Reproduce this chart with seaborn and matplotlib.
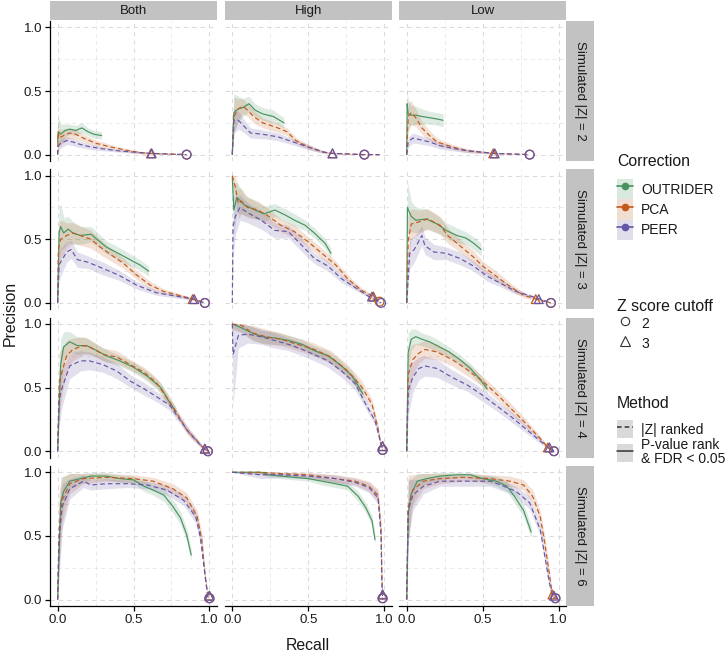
import numpy as np
import pandas as pd
import matplotlib
matplotlib.use("Agg")
import matplotlib.pyplot as plt
from matplotlib.patches import Patch
from matplotlib.lines import Line2D
from matplotlib.colors import to_rgba
import seaborn as sns

# each curve point: (recall, precision, ribbon half-width)
BOTH_Z2_OUTRIDER = [(0.0, 0.10, 0.10), (0.005, 0.18, 0.12), (0.02, 0.16, 0.08), (0.05, 0.19, 0.05), (0.08, 0.20, 0.04),
                    (0.12, 0.19, 0.04), (0.16, 0.21, 0.04), (0.20, 0.18, 0.03), (0.24, 0.16, 0.03), (0.29, 0.15, 0.03)]
BOTH_Z2_PCA = [(0.0, 0.0, 0.05), (0.003, 0.18, 0.12), (0.01, 0.13, 0.07), (0.04, 0.15, 0.05), (0.08, 0.17, 0.04),
               (0.12, 0.16, 0.04), (0.17, 0.13, 0.03), (0.25, 0.09, 0.025), (0.35, 0.06, 0.02), (0.45, 0.035, 0.015),
               (0.55, 0.015, 0.01), (0.615, 0.01, 0.005), (0.85, 0.0, 0.0)]
BOTH_Z2_PEER = [(0.0, 0.0, 0.03), (0.005, 0.07, 0.04), (0.02, 0.09, 0.04), (0.06, 0.11, 0.03), (0.10, 0.10, 0.03),
                (0.15, 0.08, 0.025), (0.22, 0.06, 0.02), (0.30, 0.045, 0.015), (0.40, 0.03, 0.01), (0.50, 0.02, 0.01),
                (0.615, 0.01, 0.005), (0.85, 0.0, 0.0)]

HIGH_Z2_OUTRIDER = [(0.0, 0.0, 0.05), (0.01, 0.33, 0.15), (0.04, 0.36, 0.10), (0.07, 0.37, 0.07), (0.11, 0.40, 0.06),
                    (0.15, 0.35, 0.05), (0.20, 0.32, 0.05), (0.27, 0.30, 0.05), (0.34, 0.25, 0.04)]
HIGH_Z2_PCA = [(0.0, 0.0, 0.05), (0.01, 0.30, 0.15), (0.04, 0.36, 0.08), (0.07, 0.38, 0.06), (0.10, 0.35, 0.05),
               (0.14, 0.30, 0.05), (0.20, 0.25, 0.04), (0.30, 0.21, 0.035), (0.36, 0.18, 0.03), (0.42, 0.11, 0.025),
               (0.50, 0.06, 0.02), (0.60, 0.02, 0.01), (0.66, 0.01, 0.005), (0.87, 0.0, 0.0), (0.97, 0.0, 0.0)]
HIGH_Z2_PEER = [(0.0, 0.0, 0.04), (0.01, 0.27, 0.10), (0.04, 0.27, 0.07), (0.08, 0.22, 0.05), (0.12, 0.17, 0.04),
                (0.20, 0.16, 0.035), (0.30, 0.14, 0.03), (0.40, 0.10, 0.025), (0.50, 0.06, 0.02), (0.60, 0.02, 0.01),
                (0.66, 0.01, 0.005), (0.87, 0.0, 0.0), (0.97, 0.0, 0.0)]

LOW_Z2_OUTRIDER = [(0.0, 0.0, 0.05), (0.003, 0.40, 0.12), (0.01, 0.32, 0.10), (0.03, 0.31, 0.08), (0.06, 0.31, 0.07),
                   (0.10, 0.30, 0.06), (0.15, 0.29, 0.05), (0.20, 0.28, 0.05), (0.24, 0.27, 0.05)]
LOW_Z2_PCA = [(0.0, 0.0, 0.05), (0.01, 0.30, 0.12), (0.03, 0.33, 0.09), (0.06, 0.29, 0.07), (0.10, 0.21, 0.05),
              (0.15, 0.15, 0.04), (0.20, 0.10, 0.03), (0.30, 0.06, 0.02), (0.40, 0.03, 0.015), (0.576, 0.01, 0.005),
              (0.81, 0.0, 0.0)]
LOW_Z2_PEER = [(0.0, 0.0, 0.03), (0.01, 0.10, 0.04), (0.04, 0.13, 0.04), (0.08, 0.12, 0.035), (0.15, 0.10, 0.03),
               (0.22, 0.07, 0.025), (0.30, 0.05, 0.02), (0.40, 0.03, 0.015), (0.576, 0.01, 0.005), (0.81, 0.0, 0.0)]

BOTH_Z3_OUTRIDER = [(0.0, 0.0, 0.10), (0.01, 0.55, 0.20), (0.02, 0.60, 0.18), (0.04, 0.55, 0.12), (0.07, 0.58, 0.10),
                    (0.10, 0.55, 0.09), (0.15, 0.53, 0.07), (0.22, 0.54, 0.06), (0.32, 0.44, 0.05), (0.43, 0.37, 0.05),
                    (0.54, 0.30, 0.04), (0.60, 0.25, 0.04)]
BOTH_Z3_PCA = [(0.0, 0.0, 0.10), (0.005, 0.42, 0.20), (0.02, 0.50, 0.15), (0.06, 0.53, 0.10), (0.10, 0.55, 0.08),
               (0.22, 0.50, 0.07), (0.28, 0.44, 0.06), (0.35, 0.38, 0.05), (0.435, 0.31, 0.04), (0.52, 0.22, 0.035),
               (0.61, 0.14, 0.03), (0.70, 0.09, 0.02), (0.895, 0.03, 0.01), (0.97, 0.0, 0.0)]
BOTH_Z3_PEER = [(0.0, 0.0, 0.08), (0.01, 0.30, 0.12), (0.06, 0.40, 0.08), (0.09, 0.42, 0.07), (0.13, 0.34, 0.06),
                (0.20, 0.32, 0.05), (0.30, 0.27, 0.05), (0.40, 0.22, 0.04), (0.52, 0.14, 0.03), (0.65, 0.08, 0.02),
                (0.895, 0.03, 0.01), (0.97, 0.0, 0.0)]

HIGH_Z3_OUTRIDER = [(0.0, 0.99, 0.05), (0.01, 0.73, 0.20), (0.03, 0.83, 0.12), (0.08, 0.77, 0.08), (0.15, 0.73, 0.07),
                    (0.21, 0.70, 0.06), (0.28, 0.73, 0.05), (0.35, 0.69, 0.05), (0.41, 0.65, 0.05), (0.48, 0.61, 0.04),
                    (0.54, 0.55, 0.04), (0.61, 0.47, 0.04), (0.65, 0.39, 0.04)]
HIGH_Z3_PCA = [(0.0, 1.0, 0.05), (0.02, 0.91, 0.10), (0.04, 0.78, 0.12), (0.06, 0.80, 0.10), (0.10, 0.75, 0.08),
               (0.17, 0.73, 0.07), (0.24, 0.68, 0.06), (0.32, 0.61, 0.05), (0.41, 0.56, 0.05), (0.50, 0.48, 0.04),
               (0.59, 0.39, 0.04), (0.68, 0.30, 0.03), (0.76, 0.19, 0.03), (0.85, 0.10, 0.02), (0.93, 0.05, 0.01),
               (0.98, 0.0, 0.0)]
HIGH_Z3_PEER = [(0.0, 0.0, 0.10), (0.005, 0.60, 0.25), (0.02, 0.68, 0.15), (0.05, 0.75, 0.10), (0.10, 0.71, 0.08),
                (0.19, 0.65, 0.07), (0.28, 0.57, 0.06), (0.37, 0.56, 0.05), (0.46, 0.45, 0.05), (0.54, 0.35, 0.04),
                (0.63, 0.29, 0.04), (0.72, 0.19, 0.03), (0.81, 0.12, 0.02), (0.90, 0.05, 0.01), (0.98, 0.0, 0.0)]

LOW_Z3_OUTRIDER = [(0.0, 0.0, 0.10), (0.005, 0.75, 0.20), (0.03, 0.68, 0.12), (0.06, 0.65, 0.10), (0.13, 0.66, 0.08),
                   (0.20, 0.62, 0.07), (0.26, 0.57, 0.06), (0.33, 0.53, 0.06), (0.39, 0.51, 0.05), (0.44, 0.47, 0.05),
                   (0.49, 0.42, 0.05)]
LOW_Z3_PCA = [(0.0, 0.0, 0.10), (0.01, 0.49, 0.20), (0.03, 0.62, 0.12), (0.09, 0.64, 0.09), (0.14, 0.66, 0.08),
              (0.22, 0.61, 0.07), (0.27, 0.53, 0.06), (0.35, 0.45, 0.05), (0.44, 0.36, 0.05), (0.50, 0.29, 0.04),
              (0.59, 0.21, 0.04), (0.68, 0.13, 0.03), (0.77, 0.06, 0.02), (0.855, 0.03, 0.01), (0.95, 0.0, 0.0)]
LOW_Z3_PEER = [(0.0, 0.0, 0.08), (0.02, 0.39, 0.12), (0.05, 0.42, 0.10), (0.10, 0.53, 0.08), (0.12, 0.45, 0.07),
               (0.18, 0.40, 0.06), (0.26, 0.39, 0.05), (0.35, 0.35, 0.05), (0.44, 0.29, 0.04), (0.53, 0.21, 0.04),
               (0.61, 0.16, 0.03), (0.72, 0.09, 0.02), (0.855, 0.04, 0.01), (0.95, 0.0, 0.0)]

BOTH_Z4_OUTRIDER = [(0.0, 0.0, 0.10), (0.02, 0.68, 0.20), (0.04, 0.82, 0.12), (0.08, 0.86, 0.08), (0.13, 0.83, 0.07),
                    (0.19, 0.83, 0.06), (0.26, 0.79, 0.05), (0.32, 0.75, 0.05), (0.41, 0.71, 0.04), (0.50, 0.66, 0.04),
                    (0.59, 0.59, 0.04), (0.68, 0.50, 0.04), (0.74, 0.38, 0.04), (0.78, 0.31, 0.04)]
BOTH_Z4_PCA = [(0.0, 0.0, 0.10), (0.01, 0.53, 0.25), (0.03, 0.63, 0.18), (0.06, 0.75, 0.12), (0.10, 0.80, 0.09),
               (0.17, 0.83, 0.07), (0.21, 0.82, 0.06), (0.30, 0.76, 0.05), (0.39, 0.74, 0.05), (0.48, 0.68, 0.04),
               (0.57, 0.62, 0.04), (0.65, 0.54, 0.04), (0.72, 0.42, 0.04), (0.79, 0.29, 0.03), (0.85, 0.17, 0.03),
               (0.92, 0.08, 0.02), (0.96, 0.026, 0.01), (0.99, 0.0, 0.0)]
BOTH_Z4_PEER = [(0.0, 0.0, 0.10), (0.01, 0.40, 0.20), (0.03, 0.50, 0.15), (0.08, 0.67, 0.10), (0.15, 0.71, 0.08),
                (0.21, 0.71, 0.07), (0.30, 0.68, 0.06), (0.39, 0.63, 0.06), (0.48, 0.55, 0.05), (0.57, 0.49, 0.05),
                (0.65, 0.43, 0.04), (0.74, 0.36, 0.04), (0.81, 0.24, 0.03), (0.87, 0.14, 0.03), (0.94, 0.05, 0.02),
                (0.96, 0.026, 0.01), (0.99, 0.0, 0.0)]

HIGH_Z4_OUTRIDER = [(0.0, 1.0, 0.03), (0.06, 0.97, 0.04), (0.13, 0.93, 0.05), (0.19, 0.90, 0.05), (0.28, 0.89, 0.05),
                    (0.37, 0.87, 0.04), (0.46, 0.84, 0.04), (0.54, 0.79, 0.04), (0.63, 0.75, 0.04), (0.72, 0.67, 0.04),
                    (0.79, 0.59, 0.04), (0.86, 0.45, 0.04)]
HIGH_Z4_PCA = [(0.0, 1.0, 0.05), (0.06, 0.99, 0.05), (0.13, 0.93, 0.06), (0.22, 0.90, 0.06), (0.32, 0.88, 0.05),
               (0.43, 0.84, 0.05), (0.54, 0.80, 0.05), (0.65, 0.74, 0.05), (0.76, 0.63, 0.05), (0.85, 0.51, 0.05),
               (0.92, 0.37, 0.04), (0.96, 0.18, 0.03), (0.98, 0.04, 0.02), (0.99, 0.01, 0.0)]
HIGH_Z4_PEER = [(0.0, 1.0, 0.10), (0.005, 0.76, 0.40), (0.04, 0.91, 0.10), (0.10, 0.92, 0.07), (0.19, 0.90, 0.06),
                (0.28, 0.87, 0.06), (0.37, 0.84, 0.05), (0.46, 0.80, 0.05), (0.54, 0.76, 0.05), (0.63, 0.71, 0.05),
                (0.72, 0.63, 0.05), (0.81, 0.53, 0.05), (0.87, 0.39, 0.04), (0.94, 0.24, 0.03), (0.97, 0.10, 0.02),
                (0.99, 0.02, 0.0)]

LOW_Z4_OUTRIDER = [(0.0, 0.0, 0.10), (0.01, 0.78, 0.15), (0.03, 0.88, 0.08), (0.06, 0.90, 0.06), (0.10, 0.88, 0.05),
                   (0.15, 0.86, 0.05), (0.20, 0.83, 0.05), (0.28, 0.78, 0.04), (0.35, 0.72, 0.04), (0.42, 0.65, 0.04),
                   (0.48, 0.57, 0.04), (0.53, 0.49, 0.04)]
LOW_Z4_PCA = [(0.0, 0.0, 0.10), (0.01, 0.60, 0.20), (0.04, 0.72, 0.12), (0.08, 0.77, 0.08), (0.12, 0.80, 0.07),
              (0.20, 0.78, 0.06), (0.30, 0.72, 0.05), (0.40, 0.64, 0.05), (0.50, 0.55, 0.04), (0.60, 0.44, 0.04),
              (0.70, 0.32, 0.04), (0.80, 0.20, 0.03), (0.88, 0.10, 0.02), (0.93, 0.03, 0.01), (0.97, 0.0, 0.0)]
LOW_Z4_PEER = [(0.0, 0.0, 0.10), (0.01, 0.48, 0.20), (0.04, 0.58, 0.12), (0.08, 0.65, 0.09), (0.12, 0.67, 0.08),
               (0.20, 0.65, 0.07), (0.30, 0.58, 0.06), (0.40, 0.52, 0.05), (0.50, 0.44, 0.05), (0.60, 0.35, 0.04),
               (0.70, 0.26, 0.04), (0.80, 0.16, 0.03), (0.88, 0.08, 0.02), (0.93, 0.03, 0.01), (0.97, 0.0, 0.0)]

BOTH_Z6_OUTRIDER = [(0.0, 0.0, 0.10), (0.02, 0.76, 0.20), (0.04, 0.85, 0.12), (0.08, 0.93, 0.06), (0.15, 0.95, 0.04),
                    (0.22, 0.97, 0.03), (0.32, 0.97, 0.03), (0.41, 0.95, 0.03), (0.50, 0.94, 0.03), (0.57, 0.89, 0.04),
                    (0.63, 0.86, 0.04), (0.70, 0.82, 0.05), (0.76, 0.73, 0.05), (0.81, 0.64, 0.05), (0.85, 0.51, 0.05),
                    (0.88, 0.35, 0.05)]
BOTH_Z6_PCA = [(0.0, 0.0, 0.10), (0.01, 0.55, 0.30), (0.03, 0.78, 0.18), (0.08, 0.91, 0.08), (0.17, 0.95, 0.04),
               (0.32, 0.96, 0.03), (0.50, 0.95, 0.03), (0.63, 0.93, 0.03), (0.76, 0.87, 0.04), (0.85, 0.80, 0.04),
               (0.92, 0.65, 0.05), (0.95, 0.47, 0.05), (0.97, 0.20, 0.04), (0.99, 0.02, 0.01), (1.0, 0.0, 0.0)]
BOTH_Z6_PEER = [(0.0, 0.0, 0.10), (0.01, 0.47, 0.30), (0.03, 0.73, 0.18), (0.08, 0.87, 0.08), (0.17, 0.93, 0.05),
                (0.22, 0.90, 0.04), (0.32, 0.91, 0.04), (0.46, 0.91, 0.03), (0.59, 0.90, 0.03), (0.72, 0.86, 0.04),
                (0.83, 0.78, 0.04), (0.91, 0.65, 0.05), (0.94, 0.49, 0.05), (0.97, 0.20, 0.04), (0.99, 0.02, 0.01),
                (1.0, 0.0, 0.0)]

HIGH_Z6_OUTRIDER = [(0.0, 1.0, 0.0), (0.19, 1.0, 0.01), (0.24, 0.98, 0.02), (0.32, 0.97, 0.02), (0.41, 0.96, 0.02),
                    (0.50, 0.95, 0.02), (0.59, 0.93, 0.03), (0.68, 0.91, 0.03), (0.76, 0.89, 0.03), (0.83, 0.81, 0.04),
                    (0.88, 0.72, 0.04), (0.92, 0.62, 0.04), (0.94, 0.47, 0.04)]
HIGH_Z6_PCA = [(0.0, 1.0, 0.0), (0.19, 1.0, 0.02), (0.32, 0.99, 0.02), (0.50, 0.98, 0.02), (0.68, 0.95, 0.03),
               (0.81, 0.93, 0.03), (0.90, 0.89, 0.04), (0.96, 0.82, 0.05), (0.98, 0.55, 0.05), (0.985, 0.20, 0.03),
               (0.99, 0.0, 0.0)]
HIGH_Z6_PEER = [(0.0, 1.0, 0.0), (0.19, 0.98, 0.03), (0.32, 0.98, 0.02), (0.50, 0.97, 0.02), (0.68, 0.95, 0.03),
                (0.81, 0.92, 0.03), (0.90, 0.88, 0.04), (0.96, 0.80, 0.05), (0.98, 0.50, 0.05), (0.985, 0.15, 0.03),
                (0.99, 0.0, 0.0)]

LOW_Z6_OUTRIDER = [(0.0, 0.0, 0.10), (0.01, 0.68, 0.25), (0.03, 0.83, 0.12), (0.07, 0.93, 0.06), (0.13, 0.95, 0.04),
                   (0.22, 0.97, 0.03), (0.33, 0.98, 0.02), (0.42, 0.98, 0.02), (0.50, 0.95, 0.03), (0.59, 0.93, 0.04),
                   (0.66, 0.89, 0.04), (0.71, 0.81, 0.05), (0.77, 0.70, 0.05), (0.82, 0.53, 0.05)]
LOW_Z6_PCA = [(0.0, 0.0, 0.10), (0.01, 0.73, 0.25), (0.04, 0.86, 0.12), (0.11, 0.93, 0.06), (0.22, 0.95, 0.04),
              (0.37, 0.96, 0.03), (0.55, 0.95, 0.03), (0.68, 0.93, 0.04), (0.77, 0.90, 0.04), (0.83, 0.81, 0.05),
              (0.88, 0.65, 0.05), (0.91, 0.44, 0.05), (0.94, 0.20, 0.04), (0.96, 0.03, 0.01), (0.98, 0.01, 0.0)]
LOW_Z6_PEER = [(0.0, 0.0, 0.10), (0.01, 0.70, 0.25), (0.04, 0.82, 0.12), (0.11, 0.89, 0.06), (0.22, 0.93, 0.04),
               (0.37, 0.93, 0.04), (0.55, 0.93, 0.04), (0.64, 0.89, 0.04), (0.72, 0.85, 0.04), (0.81, 0.76, 0.05),
               (0.88, 0.55, 0.05), (0.91, 0.34, 0.05), (0.94, 0.13, 0.04), (0.96, 0.03, 0.01), (0.98, 0.01, 0.0)]

# z score cutoff points: (correction, cutoff, recall, precision)
BOTH_Z2_CUTOFFS = [("PCA", 3, 0.615, 0.01), ("PEER", 3, 0.62, 0.01), ("PCA", 2, 0.85, 0.0), ("PEER", 2, 0.85, 0.0)]
HIGH_Z2_CUTOFFS = [("PCA", 3, 0.66, 0.01), ("PEER", 3, 0.66, 0.01), ("PCA", 2, 0.87, 0.0), ("PEER", 2, 0.87, 0.0)]
LOW_Z2_CUTOFFS = [("PCA", 3, 0.57, 0.01), ("PEER", 3, 0.58, 0.01), ("PCA", 2, 0.81, 0.0), ("PEER", 2, 0.81, 0.0)]
BOTH_Z3_CUTOFFS = [("PCA", 3, 0.89, 0.03), ("PEER", 3, 0.90, 0.03), ("PCA", 2, 0.97, 0.0), ("PEER", 2, 0.97, 0.0)]
HIGH_Z3_CUTOFFS = [("PCA", 3, 0.93, 0.05), ("PEER", 3, 0.92, 0.05), ("PCA", 2, 0.97, 0.01), ("PEER", 2, 0.98, 0.0)]
LOW_Z3_CUTOFFS = [("PCA", 3, 0.85, 0.03), ("PEER", 3, 0.87, 0.03), ("PCA", 2, 0.95, 0.0), ("PEER", 2, 0.95, 0.0)]
BOTH_Z4_CUTOFFS = [("PCA", 3, 0.97, 0.02), ("PEER", 3, 0.97, 0.02), ("PCA", 2, 0.99, 0.0), ("PEER", 2, 0.99, 0.0)]
HIGH_Z4_CUTOFFS = [("PCA", 3, 0.99, 0.04), ("PEER", 3, 0.99, 0.04), ("PCA", 2, 0.99, 0.01), ("PEER", 2, 0.99, 0.01)]
LOW_Z4_CUTOFFS = [("PCA", 3, 0.93, 0.03), ("PEER", 3, 0.94, 0.03), ("PCA", 2, 0.97, 0.0), ("PEER", 2, 0.97, 0.0)]
BOTH_Z6_CUTOFFS = [("PCA", 3, 1.0, 0.03), ("PEER", 3, 1.0, 0.03), ("PCA", 2, 1.0, 0.01), ("PEER", 2, 1.0, 0.01)]
HIGH_Z6_CUTOFFS = [("PCA", 3, 0.99, 0.04), ("PEER", 3, 0.99, 0.04), ("PCA", 2, 0.99, 0.01), ("PEER", 2, 0.99, 0.01)]
LOW_Z6_CUTOFFS = [("PCA", 3, 0.96, 0.04), ("PEER", 3, 0.97, 0.03), ("PCA", 2, 0.98, 0.01), ("PEER", 2, 0.98, 0.01)]

SUBSETS = ["Both", "High", "Low"]
ZSCORES = [2, 3, 4, 6]
CORRECTIONS = ["OUTRIDER", "PCA", "PEER"]
METHOD_OF = {"OUTRIDER": "pval", "PCA": "zrank", "PEER": "zrank"}
PALETTE = {"OUTRIDER": "#47935f", "PCA": "#c2591c", "PEER": "#6656a6"}

CURVES = {
    ("Both", 2): [BOTH_Z2_OUTRIDER, BOTH_Z2_PCA, BOTH_Z2_PEER],
    ("High", 2): [HIGH_Z2_OUTRIDER, HIGH_Z2_PCA, HIGH_Z2_PEER],
    ("Low", 2): [LOW_Z2_OUTRIDER, LOW_Z2_PCA, LOW_Z2_PEER],
    ("Both", 3): [BOTH_Z3_OUTRIDER, BOTH_Z3_PCA, BOTH_Z3_PEER],
    ("High", 3): [HIGH_Z3_OUTRIDER, HIGH_Z3_PCA, HIGH_Z3_PEER],
    ("Low", 3): [LOW_Z3_OUTRIDER, LOW_Z3_PCA, LOW_Z3_PEER],
    ("Both", 4): [BOTH_Z4_OUTRIDER, BOTH_Z4_PCA, BOTH_Z4_PEER],
    ("High", 4): [HIGH_Z4_OUTRIDER, HIGH_Z4_PCA, HIGH_Z4_PEER],
    ("Low", 4): [LOW_Z4_OUTRIDER, LOW_Z4_PCA, LOW_Z4_PEER],
    ("Both", 6): [BOTH_Z6_OUTRIDER, BOTH_Z6_PCA, BOTH_Z6_PEER],
    ("High", 6): [HIGH_Z6_OUTRIDER, HIGH_Z6_PCA, HIGH_Z6_PEER],
    ("Low", 6): [LOW_Z6_OUTRIDER, LOW_Z6_PCA, LOW_Z6_PEER],
}
CUTOFFS = {
    ("Both", 2): BOTH_Z2_CUTOFFS, ("High", 2): HIGH_Z2_CUTOFFS, ("Low", 2): LOW_Z2_CUTOFFS,
    ("Both", 3): BOTH_Z3_CUTOFFS, ("High", 3): HIGH_Z3_CUTOFFS, ("Low", 3): LOW_Z3_CUTOFFS,
    ("Both", 4): BOTH_Z4_CUTOFFS, ("High", 4): HIGH_Z4_CUTOFFS, ("Low", 4): LOW_Z4_CUTOFFS,
    ("Both", 6): BOTH_Z6_CUTOFFS, ("High", 6): HIGH_Z6_CUTOFFS, ("Low", 6): LOW_Z6_CUTOFFS,
}


def curve_frame():
    rows = []
    for (subset, z), curves in CURVES.items():
        for corr, pts in zip(CORRECTIONS, curves):
            for r, p, hw in pts:
                rows.append({"subset": subset, "z": z, "correction": corr, "method": METHOD_OF[corr],
                             "recall": r, "precision": p,
                             "lo": max(0.0, p - hw), "hi": min(1.0, p + hw)})
    return pd.DataFrame(rows)


sns.set_theme(style="white")
plt.rcParams["font.family"] = ["Liberation Sans", "DejaVu Sans"]
plt.rcParams["text.color"] = "#1a1a1a"

W, H = 727, 656
fig = plt.figure(figsize=(W / 100, H / 100), dpi=100)


def px_axes(x, y, w, h):
    return fig.add_axes([x / W, 1 - (y + h) / H, w / W, h / H])


COL_LEFT = [50, 224.7, 399.1]
ROW_TOP = [21, 169.3, 317.6, 465.9]
PANEL_W, PANEL_H = 167, 140
GRID_LS = (0, (4, 3.5))
TICK_FS = 9.5

df = curve_frame()

for ri, z in enumerate(ZSCORES):
    for ci, subset in enumerate(SUBSETS):
        ax = px_axes(COL_LEFT[ci], ROW_TOP[ri], PANEL_W, PANEL_H)
        sub = df[(df["subset"] == subset) & (df["z"] == z)]
        for corr in CORRECTIONS:
            c = sub[sub["correction"] == corr]
            ax.fill_between(c["recall"], c["lo"], c["hi"], color=PALETTE[corr], alpha=0.18, lw=0, zorder=1)
        sns.lineplot(data=sub, x="recall", y="precision", hue="correction", hue_order=CORRECTIONS,
                     style="method", style_order=["zrank", "pval"],
                     dashes={"zrank": (4.0, 2.5), "pval": ""}, palette=PALETTE,
                     estimator=None, sort=False, legend=False, lw=0.85, ax=ax, zorder=2)
        pts = pd.DataFrame(CUTOFFS[(subset, z)], columns=["correction", "cutoff", "recall", "precision"])
        for _, row in pts.iterrows():
            ax.scatter(row["recall"], row["precision"], marker="o" if row["cutoff"] == 2 else "^",
                       s=40, facecolors="none", edgecolors=PALETTE[row["correction"]],
                       linewidths=0.9, zorder=4, clip_on=False)

        ax.set_xlim(-0.05, 1.05)
        ax.set_ylim(-0.05, 1.05)
        ax.set_xticks([0, 0.5, 1.0])
        ax.set_yticks([0, 0.5, 1.0])
        ax.set_xticks([0.25, 0.75], minor=True)
        ax.set_yticks([0.25, 0.75], minor=True)
        ax.set_xticklabels(["0.0", "0.5", "1.0"])
        ax.set_yticklabels(["0.0", "0.5", "1.0"])
        ax.grid(which="major", color="#dcdcdc", lw=0.8, ls=GRID_LS)
        ax.grid(which="minor", color="#eaeaea", lw=0.7, ls=GRID_LS)
        ax.set_axisbelow(True)
        ax.tick_params(which="minor", length=0)
        ax.set_xlabel("")
        ax.set_ylabel("")
        for sp in ax.spines.values():
            sp.set_visible(False)
        if ci == 0:
            ax.spines["left"].set_visible(True)
            ax.spines["left"].set_color("black")
            ax.spines["left"].set_linewidth(0.9)
            ax.tick_params(axis="y", which="major", length=3.5, width=0.9, color="black",
                           labelsize=TICK_FS, labelcolor="#1a1a1a", pad=2, left=True)
        else:
            ax.tick_params(axis="y", which="major", length=0, labelleft=False)
        if ri == len(ZSCORES) - 1:
            ax.spines["bottom"].set_visible(True)
            ax.spines["bottom"].set_color("black")
            ax.spines["bottom"].set_linewidth(0.9)
            ax.tick_params(axis="x", which="major", length=3.5, width=0.9, color="black",
                           labelsize=TICK_FS, labelcolor="#1a1a1a", pad=2, bottom=True)
        else:
            ax.tick_params(axis="x", which="major", length=0, labelbottom=False)

# facet strips
for ci, subset in enumerate(SUBSETS):
    st = px_axes(COL_LEFT[ci], 1, PANEL_W, 19)
    st.set_facecolor("#c2c2c2")
    st.set_xticks([])
    st.set_yticks([])
    for sp in st.spines.values():
        sp.set_visible(False)
    st.text(0.5, 0.47, subset, ha="center", va="center", fontsize=9.5, transform=st.transAxes)
for ri, z in enumerate(ZSCORES):
    st = px_axes(566, ROW_TOP[ri], 28, PANEL_H)
    st.set_facecolor("#c2c2c2")
    st.set_xticks([])
    st.set_yticks([])
    for sp in st.spines.values():
        sp.set_visible(False)
    st.text(0.5, 0.5, f"Simulated |Z| = {z}", ha="center", va="center", rotation=-90,
            fontsize=9.5, transform=st.transAxes)

fig.text(10 / W, 1 - 313 / H, "Precision", rotation=90, ha="center", va="center", fontsize=11.4)
fig.text(308 / W, 1 - 645 / H, "Recall", ha="center", va="center", fontsize=11.4)

# legends
LEG_X = 617
leg_kw = dict(loc="upper left", frameon=False, fontsize=10, handlelength=1.15, labelspacing=0,
              handletextpad=0.6, borderpad=0, borderaxespad=0)

fig.text(LEG_X / W, 1 - 162 / H, "Correction", fontsize=11.4, va="center", ha="left")
corr_handles = [(Patch(facecolor=to_rgba(PALETTE[c], 0.2), edgecolor="none"),
                 Line2D([], [], color=PALETTE[c], marker="o", ms=4.5, lw=1.2)) for c in CORRECTIONS]
fig.legend(corr_handles, CORRECTIONS, bbox_to_anchor=(LEG_X / W, 1 - 179 / H), handleheight=1.87, **leg_kw)

fig.text(LEG_X / W, 1 - 306.5 / H, "Z score cutoff", fontsize=11.4, va="center", ha="left")
z_handles = [Line2D([], [], ls="none", marker="o", mfc="none", mec="#333333", ms=6, mew=0.8),
             Line2D([], [], ls="none", marker="^", mfc="none", mec="#333333", ms=6.5, mew=0.8)]
fig.legend(z_handles, ["2", "3"], bbox_to_anchor=(LEG_X / W, 1 - 313.5 / H), handleheight=1.85, **leg_kw)

fig.text(LEG_X / W, 1 - 403 / H, "Method", fontsize=11.4, va="center", ha="left")
m_handles = [(Patch(facecolor="#d9d9d9", edgecolor="none"), Line2D([], [], color="#333333", ls=(0, (3, 2)), lw=1.1)),
             (Patch(facecolor="#d9d9d9", edgecolor="none"), Line2D([], [], color="#333333", lw=1.1))]
m_leg = fig.legend(m_handles, ["|Z| ranked", "P-value rank\n& FDR < 0.05"], bbox_to_anchor=(LEG_X / W, 1 - 420 / H),
                   handleheight=1.65, **leg_kw)
m_leg.get_texts()[1].set_linespacing(0.95)

fig.savefig("out.png", dpi=100)
